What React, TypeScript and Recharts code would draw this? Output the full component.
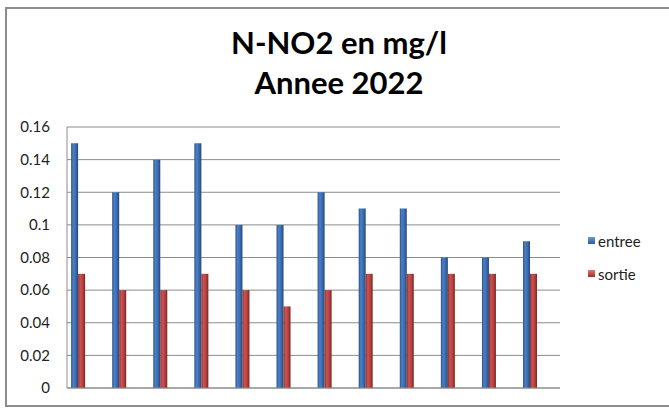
import React from 'react';
import { BarChart, Bar, XAxis, YAxis, CartesianGrid } from 'recharts';

// 12 months, no labels on the category axis
const months = ['1', '2', '3', '4', '5', '6', '7', '8', '9', '10', '11', '12'];
const entree = [0.15, 0.12, 0.14, 0.15, 0.1, 0.1, 0.12, 0.11, 0.11, 0.08, 0.08, 0.09];
const sortie = [0.07, 0.06, 0.06, 0.07, 0.06, 0.05, 0.06, 0.07, 0.07, 0.07, 0.07, 0.07];
const yTicks = [0, 0.02, 0.04, 0.06, 0.08, 0.1, 0.12, 0.14, 0.16];

const data = months.map((m, i) => ({ mois: m, entree: entree[i], sortie: sortie[i] }));

const FONT = 'Lato, "Open Sans", sans-serif';

const legendItems = [
  { label: 'entree', top: '#6a9ad8', bottom: '#2e5c9a' },
  { label: 'sortie', top: '#e07470', bottom: '#9c2f2c' },
];

const ChartLegend = () => (
  <div style={{ position: 'absolute', left: 588, top: 224, fontFamily: FONT, fontSize: 15, color: '#222' }}>
    {legendItems.map((it) => (
      <div key={it.label} style={{ display: 'flex', alignItems: 'center', height: 33 }}>
        <span
          style={{
            display: 'inline-block',
            width: 7,
            height: 7,
            marginRight: 3,
            background: `linear-gradient(${it.top}, ${it.bottom})`,
          }}
        />
        <span>{it.label}</span>
      </div>
    ))}
  </div>
);

export default function App() {
  return (
    <div style={{ position: 'fixed', left: 0, top: 0, width: 669, height: 410, background: '#fff', overflow: 'hidden' }}>
      {/* chart frame */}
      <div
        style={{
          position: 'absolute',
          left: 5,
          top: 7,
          width: 700,
          height: 400,
          border: '2px solid #8c8c8c',
          boxSizing: 'border-box',
        }}
      />
      <div
        style={{
          position: 'absolute',
          left: 0,
          top: 22,
          width: 678,
          textAlign: 'center',
          fontFamily: FONT,
          fontWeight: 700,
          fontSize: 31,
          lineHeight: '40px',
          color: '#000',
        }}
      >
        <div>N-NO2 en mg/l</div>
        <div>Annee 2022</div>
      </div>
      <BarChart
        width={669}
        height={410}
        data={data}
        margin={{ top: 127, right: 109, bottom: 21, left: 0 }}
        barGap={0}
        barCategoryGap="10%"
        style={{ position: 'absolute', left: 0, top: 0 }}
      >
        <defs>
          <linearGradient id="barBlue" x1="0" y1="0" x2="1" y2="0">
            <stop offset="0%" stopColor="#2a5288" />
            <stop offset="30%" stopColor="#4b80c6" />
            <stop offset="65%" stopColor="#3b6cb0" />
            <stop offset="100%" stopColor="#254777" />
          </linearGradient>
          <linearGradient id="barRed" x1="0" y1="0" x2="1" y2="0">
            <stop offset="0%" stopColor="#92302d" />
            <stop offset="30%" stopColor="#cc524e" />
            <stop offset="65%" stopColor="#b6423f" />
            <stop offset="100%" stopColor="#7a2523" />
          </linearGradient>
        </defs>
        <CartesianGrid vertical={false} stroke="#8c8c8c" />
        <XAxis dataKey="mois" tick={false} tickLine={false} height={1} axisLine={{ stroke: '#8c8c8c' }} />
        <YAxis
          width={67}
          domain={[0, 0.16]}
          ticks={yTicks}
          interval={0}
          tickLine={false}
          tickSize={0}
          tickMargin={17}
          axisLine={{ stroke: '#8c8c8c' }}
          tick={{ fill: '#222', fontSize: 15, fontFamily: FONT }}
        />
        <Bar dataKey="entree" fill="url(#barBlue)" isAnimationActive={false} />
        <Bar dataKey="sortie" fill="url(#barRed)" isAnimationActive={false} />
        {/* empty series kept so the groups sit like in the original sheet */}
        <Bar dataKey="vide1" legendType="none" isAnimationActive={false} />
        <Bar dataKey="vide2" legendType="none" isAnimationActive={false} />
        <Bar dataKey="vide3" legendType="none" isAnimationActive={false} />
      </BarChart>
      <ChartLegend />
    </div>
  );
}
